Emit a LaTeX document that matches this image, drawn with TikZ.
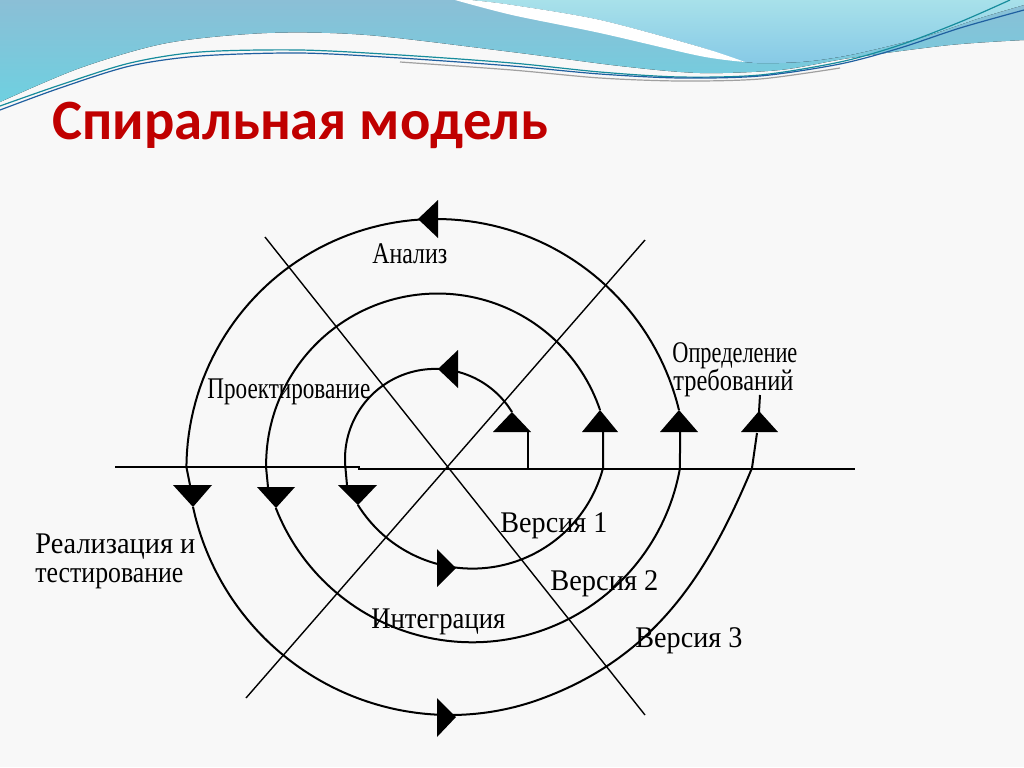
\documentclass[tikz,border=0pt]{standalone}
\usepackage{fontspec}
\usepackage{graphicx}
\setmainfont{Liberation Serif}
\newfontfamily\titlefam{Carlito}
\definecolor{titlered}{HTML}{C00000}
\definecolor{bgcol}{HTML}{F8F8F8}
\definecolor{waveA}{HTML}{8BBFD6}
\definecolor{waveAb}{HTML}{6ED0E0}
\definecolor{waveB}{HTML}{A8E1EA}
\definecolor{waveBb}{HTML}{86C9E6}
\definecolor{lineteal}{HTML}{168C9C}
\definecolor{lineblue}{HTML}{1F5FA0}
\definecolor{linegray}{HTML}{A0A0A0}
\newcommand\fitto[2]{\sbox0{#2}\pgfmathsetmacro\fitsx{#1/\the\wd0}\scalebox{\fitsx}[1]{\usebox0}}
\newcommand\tri[3]{\fill (#1) -- (#2) -- (#3) -- cycle;}
% circular arc: centre x, centre y, radius, start angle, end angle
\newcommand\carc[5]{plot[domain=#4:#5, samples=90] ({#1+#3*cos(\x)}, {#2-#3*sin(\x)})}
\begin{document}
\begin{tikzpicture}[x={(0.5pt,0pt)}, y={(0pt,-0.5pt)}, line join=round,
  spiral/.style={line width=1pt},
  diag/.style={line width=0.7pt},
  wline/.style={line width=0.6pt},
  lbl/.style={anchor=base west, inner sep=0pt, font=\fontsize{15}{18}\selectfont}]
\useasboundingbox (0,0) rectangle (1024,767);
\fill[bgcol] (0,0) rectangle (1024,767);
% top decoration
\fill[top color=waveA, bottom color=waveAb]
  plot[smooth] coordinates {(0,102) (80,68) (167,43) (267,33) (367,35) (512,52) (620,66) (700,73) (780,70) (850,58) (950,45) (1024,40)}
  -- (1024,0) -- (0,0) -- cycle;
\fill[top color=waveB, bottom color=waveBb]
  plot[smooth] coordinates {(470,0) (512,5) (600,20) (700,47) (745,62) (800,62) (850,55) (920,38) (980,18) (1024,5)}
  -- (1024,0) -- cycle;
\fill[white]
  plot[smooth] coordinates {(470,0) (512,5) (600,20) (700,47) (745,62)}
  -- plot[smooth] coordinates {(745,62) (700,56) (600,33) (512,15) (455,0)} -- cycle;
\draw[wline, linegray] plot[smooth] coordinates {(400,62) (512,70) (600,78) (680,81) (760,79) (840,68)};
\draw[wline, lineteal] plot[smooth] coordinates {(0,106) (60,85) (130,63) (200,52) (300,50) (400,55) (512,63) (600,72) (680,77) (760,75) (840,62) (900,45) (960,22) (1010,0)};
\draw[wline, lineblue] plot[smooth] coordinates {(0,110) (60,88) (130,66) (200,56) (300,53) (400,58) (512,66) (600,74) (680,78) (760,76) (840,64) (900,48) (960,28) (1024,10)};
% title
\node[anchor=base west, inner sep=0pt, text=titlered, font=\titlefam\bfseries\fontsize{28.5}{34}\selectfont] (title) at (52,139) {\fitto{248}{Спиральная модель}};
% axis and diagonals
\coordinate (axL) at (115,467);
\coordinate (axM1) at (360,467);
\coordinate (axM2) at (358,468.5);
\coordinate (axR) at (855,468.5);
\draw[spiral] (axL) -- (axM1);
\draw[spiral] (axM2) -- (axR);
\coordinate (d1a) at (265,237);
\coordinate (d1b) at (645,715);
\coordinate (d2a) at (246,698);
\coordinate (d2b) at (645,240);
\draw[diag] (d1a) -- (d1b);
\draw[diag] (d2a) -- (d2b);
% spiral
\draw[spiral] (528,468) -- (528,432);
\draw[spiral] \carc{435.1}{459}{90.1}{31.4}{185.7} -- (347,485);
\draw[spiral] \carc{472.5}{433.6}{135}{211.9}{345.2} -- (603,432);
\draw[spiral] \carc{437.6}{465}{171.5}{18.7}{181} -- (268,487);
\draw[spiral] \carc{472.3}{431.4}{210.9}{201.3}{350} -- (680,432);
\draw[spiral] \carc{436.2}{468.8}{249.8}{13.6}{179.6} -- (190,485);
\draw[spiral] \carc{450.3}{451.9}{263.1}{192.1}{290}
  .. controls (657.8,656.3) and (709.6,569.5) .. (752,468) -- (757,433);
\draw[spiral] (759,412) -- (760,395);
% arrowheads
\tri{512,412}{493,432}{531,432}
\tri{600,410}{582,432}{618,432}
\tri{679,410}{660,432}{698,432}
\tri{759,411}{741,432}{778,432}
\tri{358,505}{338,485}{377,485}
\tri{276,508}{257,487}{295,487}
\tri{193,507}{173,485}{212,485}
\tri{438,369}{458,350}{458,388}
\tri{418,219}{438,200}{438,238}
\tri{456,568}{437,549}{437,587}
\tri{456,717}{437,698}{437,737}
% labels
\node[lbl] (analiz) at (372,263) {\fitto{37.5}{Анализ}};
\node[lbl] (proekt) at (207,398) {\fitto{81.5}{Проектирование}};
\node[lbl] (opred) at (672,362) {\fitto{62.5}{Определение}};
\node[lbl] (treb) at (673,390) {\fitto{60}{требований}};
\node[lbl] (real) at (35,553) {\fitto{80}{Реализация и}};
\node[lbl] (test) at (35,582) {\fitto{74}{тестирование}};
\node[lbl] (integr) at (371,628) {\fitto{67}{Интеграция}};
\node[lbl] (v1) at (500,532) {\fitto{53.5}{Версия 1}};
\node[lbl] (v2) at (550,590) {\fitto{54}{Версия 2}};
\node[lbl] (v3) at (635,647) {\fitto{53.5}{Версия 3}};
\end{tikzpicture}
\end{document}
